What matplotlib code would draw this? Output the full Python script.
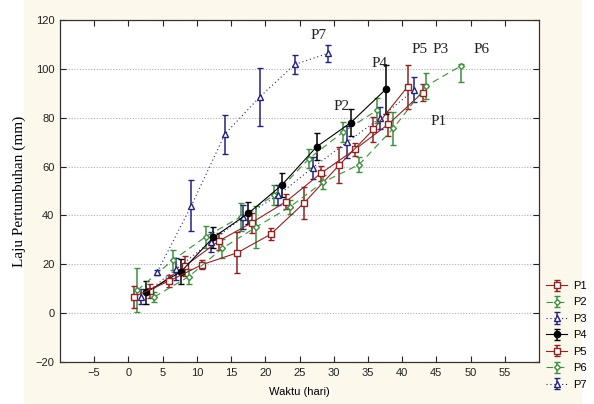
import matplotlib
matplotlib.use("Agg")
import matplotlib.pyplot as plt
from matplotlib.patches import Rectangle

# ---- data ----
p1_x = [3.2, 8.2, 13.2, 18.0, 23.0, 28.1, 33.1, 38.0, 43.0]
p1_y = [9.0, 19.2, 29.5, 37.0, 45.6, 57.2, 67.0, 77.4, 90.3]
p1_lo = [3.0, 4.0, 3.5, 4.0, 3.0, 3.0, 2.5, 5.0, 3.5]
p1_hi = [3.0, 4.0, 3.5, 4.0, 3.0, 3.0, 2.5, 5.0, 3.5]

p2_x = [1.3, 6.5, 11.3, 16.4, 21.3, 26.4, 31.4, 36.3]
p2_y = [9.4, 21.7, 31.3, 39.4, 48.3, 63.3, 74.2, 83.0]
p2_lo = [9.0, 4.0, 4.5, 5.7, 4.0, 4.0, 4.0, 5.0]
p2_hi = [9.0, 4.0, 4.5, 5.7, 4.0, 4.0, 4.0, 5.0]

p3_x = [1.9, 6.9, 12.0, 16.8, 21.9, 26.9, 32.0, 36.7, 41.8]
p3_y = [6.7, 17.9, 29.2, 39.4, 48.3, 59.5, 70.1, 79.7, 91.5]
p3_lo = [3.0, 4.5, 4.0, 5.0, 4.0, 4.5, 6.5, 4.5, 5.0]
p3_hi = [3.0, 4.5, 4.0, 5.0, 4.0, 4.5, 6.5, 4.5, 5.0]

p4_x = [2.6, 7.7, 12.4, 17.5, 22.4, 27.5, 32.5, 37.6]
p4_y = [8.6, 17.0, 31.0, 40.8, 52.4, 68.1, 78.0, 91.6]
p4_lo = [4.7, 5.0, 4.4, 4.5, 5.0, 5.5, 5.5, 10.0]
p4_hi = [4.7, 5.0, 4.4, 4.5, 5.0, 5.5, 5.5, 10.0]

p5_x = [0.8, 5.9, 10.8, 15.9, 20.8, 25.7, 30.8, 35.8, 40.8]
p5_y = [6.7, 13.1, 19.9, 24.7, 32.3, 45.2, 60.6, 75.2, 92.7]
p5_lo = [4.4, 2.5, 2.0, 8.4, 2.5, 6.5, 7.3, 5.0, 9.0]
p5_hi = [4.4, 2.5, 2.0, 8.4, 2.5, 6.5, 7.3, 5.0, 9.0]

p6_x = [3.8, 8.8, 13.7, 18.7, 23.6, 28.5, 33.7, 38.7, 43.5, 48.6]
p6_y = [6.7, 14.9, 26.5, 35.3, 43.5, 53.7, 60.8, 75.6, 93.0, 101.2]
p6_lo = [2.0, 3.0, 4.0, 8.5, 3.0, 3.0, 3.0, 6.8, 5.5, 6.5]
p6_hi = [2.0, 3.0, 4.0, 8.5, 3.0, 3.0, 3.0, 6.8, 5.5, 0.6]

p7_x = [4.2, 9.2, 14.1, 19.2, 24.3, 29.1]
p7_y = [16.8, 44.0, 73.3, 88.5, 101.8, 106.3]
p7_lo = [1.0, 10.5, 8.0, 11.8, 4.0, 3.5]
p7_hi = [1.0, 10.5, 8.0, 11.8, 4.0, 3.5]

series_names = ["P1", "P2", "P3", "P4", "P5", "P6", "P7"]

x_ticks = [-5, 0, 5, 10, 15, 20, 25, 30, 35, 40, 45, 50, 55]
y_ticks = [-20, 0, 20, 40, 60, 80, 100, 120]

# ---- style ----
RED = "#8E2323"
GREEN = "#3C8F3C"
NAVY = "#23237E"
BLACK = "#000000"
CREAM = "#FCF8EC"

fig = plt.figure(figsize=(5.94, 4.04), dpi=100)
fig.patch.set_facecolor(CREAM)
fig.patches.append(Rectangle((0, 0), 24 / 594, 1, transform=fig.transFigure,
                             facecolor="white", edgecolor="none", zorder=-1))
fig.patches.append(Rectangle((582 / 594, 0), 12 / 594, 1, transform=fig.transFigure,
                             facecolor="white", edgecolor="none", zorder=-1))

ax = fig.add_axes([60 / 594, 1 - 362 / 404, (539 - 60) / 594, (362 - 20) / 404])
ax.set_facecolor("white")

styles = [
    (p1_x, p1_y, p1_lo, p1_hi, RED, "-", "s", 5, "white"),
    (p2_x, p2_y, p2_lo, p2_hi, GREEN, (0, (6, 4)), "D", 3, "white"),
    (p3_x, p3_y, p3_lo, p3_hi, NAVY, (0, (1, 2.5)), "^", 4, "white"),
    (p4_x, p4_y, p4_lo, p4_hi, BLACK, "-", "o", 4.5, BLACK),
    (p5_x, p5_y, p5_lo, p5_hi, RED, "-", "s", 5, "white"),
    (p6_x, p6_y, p6_lo, p6_hi, GREEN, (0, (6, 4)), "D", 3, "white"),
    (p7_x, p7_y, p7_lo, p7_hi, NAVY, (0, (1, 2.5)), "^", 4, "white"),
]

for name, (xs, ys, lo, hi, c, ls, mk, ms, mfc) in zip(series_names, styles):
    ax.errorbar(xs, ys, yerr=[lo, hi], color=c, linestyle=ls, linewidth=0.8,
                marker=mk, markersize=ms, markerfacecolor=mfc,
                markeredgecolor=c, markeredgewidth=1.0,
                ecolor=c, elinewidth=1.1, capsize=2.2, capthick=1.0,
                label=name, zorder=3)

ax.set_xlim(-10, 60)
ax.set_ylim(-20, 120)
ax.set_xticks(x_ticks)
ax.set_yticks(y_ticks)
ax.tick_params(direction="in", length=4, width=0.8, top=True, right=True,
               labelsize=8, colors="#222222", pad=4)
for lab in ax.get_xticklabels() + ax.get_yticklabels():
    lab.set_family("Liberation Sans")
ax.yaxis.grid(True, linestyle=(0, (1, 1.5)), color="#B0B0B0", linewidth=0.8)
ax.set_axisbelow(True)
for sp in ax.spines.values():
    sp.set_linewidth(0.9)
    sp.set_color("#333333")

ax.set_xlabel("Waktu (hari)", family="Liberation Sans", fontsize=8, labelpad=7)
ax.set_ylabel("Laju Pertumbuhan (mm)", family="Liberation Serif", fontsize=11, labelpad=7)

lab_names = ["P7", "P4", "P2", "P5", "P3", "P6", "P1"]
lab_x = [27.8, 36.7, 31.2, 42.6, 45.6, 51.6, 45.3]
lab_y = [113.8, 102.3, 84.7, 108.0, 108.0, 108.0, 78.6]
for t, x, y in zip(lab_names, lab_x, lab_y):
    ax.text(x, y, t, ha="center", va="center", family="Liberation Serif",
            fontsize=11, color="#222222", zorder=4)

leg = ax.legend(loc="upper left", bbox_to_anchor=(546 / 594, 1 - 281 / 404),
                bbox_transform=fig.transFigure, frameon=False,
                prop={"family": "Liberation Sans", "size": 8},
                handlelength=1.9, handletextpad=0.5, labelspacing=0.58,
                borderpad=0.0, borderaxespad=0.0)

fig.savefig("out.png", dpi=100, facecolor=fig.get_facecolor())
